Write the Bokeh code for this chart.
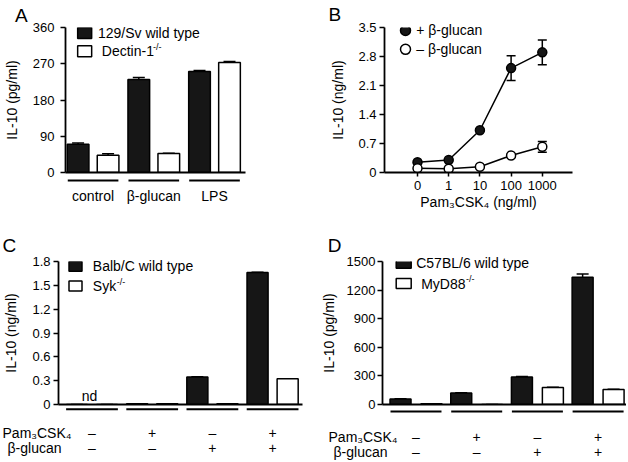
from bokeh.plotting import figure
from bokeh.models import (FixedTicker, Whisker, TeeHead, ColumnDataSource, Range1d,
                          NumeralTickFormatter)
from bokeh.layouts import row, column
from bokeh.embed import file_html
from bokeh.resources import INLINE
from bokeh.core.properties import value

FONT = "Liberation Sans"
ORIGIN = 0  # page content starts at the window's top-left corner

# ---------------- data ----------------
# Panel A
a_categories = ["control", "β-glucan", "LPS"]
a_wt = [70, 231, 251]
a_wt_err = [3.5, 5, 2.5]
a_ko = [43, 47, 273]
a_ko_err = [3.5, 1, 2.5]
a_yticks = [0, 90, 180, 270, 360]
a_legend = ["129/Sv wild type", "Dectin-1"]

# Panel B
b_doses = ["0", "1", "10", "100", "1000"]
b_plus = [0.25, 0.30, 1.02, 2.52, 2.90]
b_plus_err = [0.02, 0.02, 0.03, 0.30, 0.30]
b_minus = [0.10, 0.09, 0.14, 0.41, 0.62]
b_minus_err = [0.02, 0.02, 0.02, 0.03, 0.13]
b_yticks = [0, 0.7, 1.4, 2.1, 2.8, 3.5]
b_legend = ["+ β-glucan", "– β-glucan"]

# Panels C and D (shared treatment rows)
cd_pam = ["–", "+", "–", "+"]
cd_glucan = ["–", "–", "+", "+"]

c_wt = [0, 0.01, 0.345, 1.66]
c_wt_err = [0, 0, 0.005, 0.005]
c_ko = [0, 0.01, 0.01, 0.325]
c_ko_err = [0, 0, 0, 0]
c_yticks = [0, 0.3, 0.6, 0.9, 1.2, 1.5, 1.8]
c_legend = ["Balb/C wild type", "Syk"]
c_notes = ["nd", "", "", ""]

d_wt = [59, 121, 289, 1335]
d_wt_err = [2, 2, 4, 35]
d_ko = [8, 0, 178, 157]
d_ko_err = [0, 0, 2, 2]
d_yticks = [0, 300, 600, 900, 1200, 1500]
d_legend = ["C57BL/6 wild type", "MyD88"]

# ---------------- helpers ----------------
CW = {"D": .722, "e": .556, "c": .5, "t": .278, "i": .222, "n": .556, "-": .333,
      "1": .556, "S": .667, "y": .5, "k": .5, "M": .833, "8": .556}


def text_w(s, size):
    return sum(CW.get(ch, 0.556) for ch in s) * size


class Panel:
    """A figure whose frame sits at given image-pixel edges."""

    def __init__(self, page_x, page_y, w, h, fl, ft, fr, fb, xr, yr):
        ox, oy = ORIGIN + page_x, ORIGIN + page_y
        self.fl, self.ft, self.fr, self.fb = fl, ft, fr, fb
        self.xr, self.yr = xr, yr
        self.p = figure(width=w, height=h, x_range=Range1d(*xr), y_range=Range1d(*yr),
                        output_backend="svg", toolbar_location=None,
                        min_border_left=fl - ox, min_border_right=ox + w - fr,
                        min_border_top=ft - oy, min_border_bottom=oy + h - fb)
        p = self.p
        p.xgrid.visible = False
        p.ygrid.visible = False
        p.outline_line_color = None
        p.background_fill_color = "white"
        p.border_fill_color = "white"
        for ax in p.axis:
            ax.axis_line_width = 1.8
            ax.axis_line_color = "black"
            ax.major_tick_line_width = 1.5
            ax.major_tick_line_color = "black"
            ax.major_tick_out = 5
            ax.major_tick_in = 0
            ax.minor_tick_line_color = None
            ax.major_label_text_font = FONT
            ax.major_label_text_font_size = "13px"
            ax.major_label_text_color = "black"
            ax.axis_label_text_font = FONT
            ax.axis_label_text_font_size = "14px"
            ax.axis_label_text_font_style = "normal"
            ax.axis_label_text_color = "black"

    def X(self, px):
        return self.xr[0] + (px - self.fl) / (self.fr - self.fl) * (self.xr[1] - self.xr[0])

    def Y(self, py):
        return self.yr[0] + (self.fb - py) / (self.fb - self.ft) * (self.yr[1] - self.yr[0])

    def text(self, xs, ys, texts, size=14, align="left", baseline="middle", data_x=False):
        xx = list(xs) if data_x else [self.X(v) for v in xs]
        self.p.text(x=xx, y=[self.Y(v) for v in ys], text=list(texts),
                    text_font=value(FONT), text_font_size=f"{size}px",
                    text_align=align, text_baseline=baseline, text_color="black",
                    level="overlay")


def bar_panel(P, wt, wt_err, ko, ko_err, off, width, cap):
    n = len(wt)
    centers = [i + 1 for i in range(n)]
    for vals, errs, sign, fill in ((wt, wt_err, -1, "#161616"), (ko, ko_err, 1, "white")):
        xs = [c + sign * off for c in centers]
        src = ColumnDataSource(dict(x=xs, top=vals, lo=vals,
                                    hi=[v + e for v, e in zip(vals, errs)]))
        P.p.add_layout(Whisker(source=src, base="x", lower="lo", upper="hi",
                               dimension="height", line_width=1.5, line_color="black",
                               upper_head=TeeHead(size=cap, line_width=1.5, line_color="black"),
                               lower_head=None))
        P.p.vbar(x="x", top="top", bottom=0, width=width, source=src,
                 fill_color=fill, line_color="black", line_width=1.5)
    p = P.p
    p.xaxis.ticker = FixedTicker(ticks=[])
    p.xaxis.major_label_text_font_size = "0px"
    p.xaxis.major_tick_line_color = None
    return centers


def underlines(P, centers, half, py):
    P.p.segment(x0=[c - half for c in centers], x1=[c + half for c in centers],
                y0=[P.Y(py)] * len(centers), y1=[P.Y(py)] * len(centers),
                line_width=2, line_color="black", level="overlay")


def square_legend(P, cx, cys, w, h, labels, text_x):
    fills = ["#161616", "white"]
    for cy, f in zip(cys, fills):
        P.p.rect(x=[P.X(cx)], y=[P.Y(cy)], width=w, height=h, width_units="screen",
                 height_units="screen", fill_color=f, line_color="black", line_width=1.5)
    P.text([text_x[0]], [cys[0]], [labels[0]])
    P.text([text_x[1]], [cys[1]], [labels[1]])
    P.text([text_x[1] + text_w(labels[1], 14) + 0.5], [cys[1] - 4.5], ["-/-"], size=9)


# ---------------- Panel A ----------------
A = Panel(0, 0, 314, 220, 60, 26, 245, 172,
          (1 - (88.35 - 60) / 62.4, 1 - (88.35 - 60) / 62.4 + 185 / 62.4), (0, 360))
A.p.yaxis.ticker = FixedTicker(ticks=a_yticks)
A.p.yaxis.axis_label = "IL-10 (pg/ml)"
A.p.yaxis.major_label_standoff = 6
A.p.yaxis.axis_label_standoff = 10
ca = bar_panel(A, a_wt, a_wt_err, a_ko, a_ko_err, 0.247, 0.357, 12)
underlines(A, ca, 0.417, 180)
A.text(ca, [195.5] * 3, a_categories, align="center", data_x=True)
square_legend(A, 79.7, [31.5, 50], 14, 11, a_legend, [93.3, 97.3])
A.text([8], [14], ["A"], size=19)

# ---------------- Panel B ----------------
B = Panel(314, 0, 312, 220, 384, 27, 572, 173, (-33 / 31.2, 155 / 31.2), (0, 3.5))
pb = B.p
pb.yaxis.ticker = FixedTicker(ticks=b_yticks)
pb.yaxis.formatter = NumeralTickFormatter(format="0.[0]")
pb.yaxis.axis_label = "IL-10 (ng/ml)"
pb.yaxis.major_label_standoff = 3
pb.yaxis.axis_label_standoff = 9
bx = list(range(len(b_doses)))
pb.xaxis.ticker = FixedTicker(ticks=bx)
pb.xaxis.major_label_overrides = {i: d for i, d in zip(bx, b_doses)}
pb.xaxis.axis_label = "Pam₃CSK₄ (ng/ml)"
pb.xaxis.major_tick_out = 4
pb.xaxis.major_label_standoff = 4
pb.xaxis.axis_label_standoff = 1
for vals, errs, fill in ((b_plus, b_plus_err, "#161616"), (b_minus, b_minus_err, "white")):
    src = ColumnDataSource(dict(x=bx, y=vals, lo=[v - e for v, e in zip(vals, errs)],
                                hi=[v + e for v, e in zip(vals, errs)]))
    pb.line(x="x", y="y", source=src, line_color="black", line_width=1.5)
    pb.add_layout(Whisker(source=src, base="x", lower="lo", upper="hi", dimension="height",
                          line_width=1.5, line_color="black",
                          upper_head=TeeHead(size=9, line_width=1.5, line_color="black"),
                          lower_head=TeeHead(size=9, line_width=1.5, line_color="black")))
    pb.scatter(x="x", y="y", source=src, size=9, marker="circle", fill_color=fill,
               line_color="black", line_width=1.5)
for cy, fill in zip([30, 49], ["#161616", "white"]):
    pb.scatter(x=[B.X(405)], y=[B.Y(cy)], size=10, marker="circle", fill_color=fill,
               line_color="black", line_width=1.5)
B.text([415.7, 415.7], [30, 49], b_legend)
B.text([328], [14], ["B"], size=19)

# ---------------- Panel C ----------------
C = Panel(0, 220, 314, 240, 58, 258, 302, 406,
          (1 - 33.5 / 60.2, 1 - 33.5 / 60.2 + 244 / 60.2), (0, 1.8))
pc = C.p
pc.yaxis.ticker = FixedTicker(ticks=c_yticks)
pc.yaxis.formatter = NumeralTickFormatter(format="0.[0]")
pc.yaxis.axis_label = "IL-10 (ng/ml)"
pc.yaxis.major_label_standoff = 3
pc.yaxis.axis_label_standoff = 10
cc = bar_panel(C, c_wt, c_wt_err, c_ko, c_ko_err, 0.25, 0.35, 12)
underlines(C, cc, 0.43, 411)
C.text([c - 0.04 for c in cc], [397.7] * 4, c_notes, align="center", data_x=True)
C.text(cc, [436] * 4, cd_pam, align="center", data_x=True)
C.text(cc, [451] * 4, cd_glucan, align="center", data_x=True)
C.text([36.5, 34], [436, 451], ["Pam₃CSK₄", "β-glucan"], align="center")
square_legend(C, 75, [263, 283.3], 13, 10, c_legend, [92.3, 92.3])
C.text([2], [241.7], ["C"], size=19)

# ---------------- Panel D ----------------
D = Panel(314, 220, 312, 240, 382, 261, 626, 404,
          (1 - 33.5 / 60.7, 1 - 33.5 / 60.7 + 244 / 60.7), (0, 1500))
pd_ = D.p
pd_.yaxis.ticker = FixedTicker(ticks=d_yticks)
pd_.yaxis.axis_label = "IL-10 (pg/ml)"
pd_.yaxis.major_label_standoff = 2
pd_.yaxis.axis_label_standoff = 7
dc = bar_panel(D, d_wt, d_wt_err, d_ko, d_ko_err, 0.255, 0.346, 12)
underlines(D, dc, 0.42, 411)
D.text(dc, [436] * 4, cd_pam, align="center", data_x=True)
D.text(dc, [451] * 4, cd_glucan, align="center", data_x=True)
D.text([362.5, 360], [436, 451], ["Pam₃CSK₄", "β-glucan"], align="center")
square_legend(D, 403.2, [262.7, 283], 15, 10, d_legend, [415.7, 420.7])
D.text([327.3], [245], ["D"], size=19)

layout = column(row(A.p, B.p), row(C.p, D.p))
open("out.html", "w").write(file_html(layout, INLINE))
